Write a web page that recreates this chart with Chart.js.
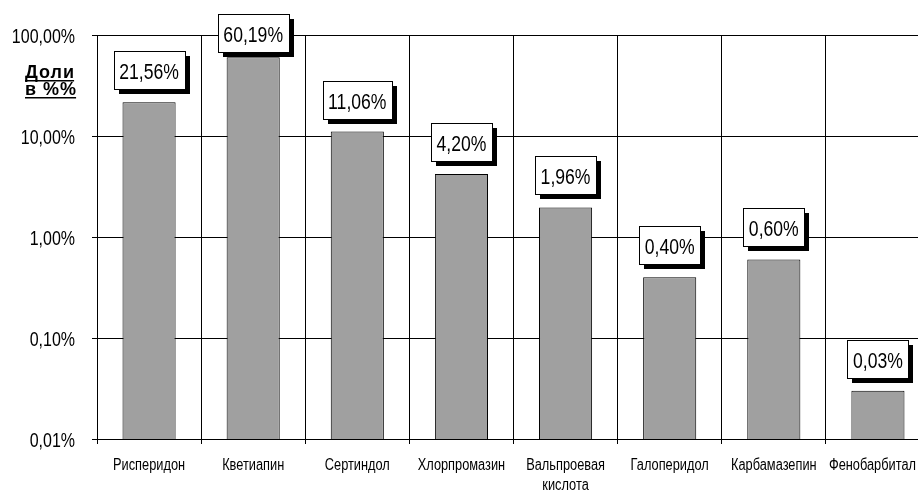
<!DOCTYPE html>
<html>
<head>
<meta charset="utf-8">
<script src="https://cdn.jsdelivr.net/npm/chart.js@4.4.0/dist/chart.umd.min.js"></script>
<style>
  html, body { margin: 0; padding: 0; background: #fff; overflow: hidden; }
  #wrap { width: 935px; height: 494px; }
</style>
</head>
<body>
<div id="wrap"><canvas id="grafico"></canvas></div>
<script>
const categorias = ['Рисперидон', 'Кветиапин', 'Сертиндол', 'Хлорпромазин', ['Вальпроевая', 'кислота'], 'Галоперидол', 'Карбамазепин', 'Фенобарбитал'];
const doli = [21.56, 60.19, 11.06, 4.20, 1.96, 0.40, 0.60, 0.03];
const yTicks = [0.01, 0.1, 1, 10, 100];

const fonte = '"Liberation Sans", Arial, sans-serif';
const fmt = v => v.toFixed(2).replace('.', ',') + '%';

// texto "estreito" (tipo Arial Narrow) - escala horizontal
function estreito(ctx, txt, x, y, align, sx) {
    ctx.save();
    ctx.translate(x, y);
    ctx.scale(sx, 1);
    ctx.textAlign = align;
    ctx.fillText(txt, 0, 0);
    ctx.restore();
}

// rótulos dos eixos desenhados à mão
const eixos = {
    id: 'eixos',
    afterDraw(chart) {
        const ctx = chart.ctx;
        const x = chart.scales.x, y = chart.scales.y;
        ctx.save();
        ctx.fillStyle = '#000';
        ctx.textBaseline = 'middle';
        ctx.font = '20px ' + fonte;
        yTicks.forEach(v => {
            estreito(ctx, fmt(v), y.right - 22, y.getPixelForValue(v) + 2, 'right', 0.8);
        });
        ctx.font = '16px ' + fonte;
        categorias.forEach((c, i) => {
            const linhas = Array.isArray(c) ? c : [c];
            let px = x.getPixelForValue(i);
            linhas.forEach((l, j) => {
                // não deixa o último rótulo sair da janela
                const meia = ctx.measureText(l).width * 0.8 / 2;
                const cx = Math.min(px, 916 - meia);
                estreito(ctx, l, cx, x.top + 27 + j * 20, 'center', 0.8);
            });
        });
        ctx.restore();
    }
};

// caixinhas com sombra acima das barras
const rotulos = {
    id: 'rotulos',
    afterDatasetsDraw(chart) {
        const ctx = chart.ctx;
        const meta = chart.getDatasetMeta(0);
        ctx.save();
        ctx.font = '22px ' + fonte;
        ctx.textBaseline = 'middle';
        meta.data.forEach((bar, i) => {
            const txt = fmt(doli[i]);
            const w = Math.round(ctx.measureText(txt).width * 0.8 + 11);
            const h = 38;
            let top = Math.round(bar.y - 13 - h);
            if (top < 14) top = 14;
            const left = Math.round(bar.x - w / 2);
            ctx.fillStyle = '#000';
            ctx.fillRect(left + 5, top + 5, w, h);
            ctx.fillStyle = '#fff';
            ctx.fillRect(left, top, w, h);
            ctx.strokeStyle = '#000';
            ctx.lineWidth = 1;
            ctx.strokeRect(left + 0.5, top + 0.5, w, h);
            ctx.fillStyle = '#000';
            estreito(ctx, txt, bar.x, top + h / 2 + 3, 'center', 0.8);
        });
        ctx.restore();
    }
};

// "Доли в %%" sublinhado
const tituloEixo = {
    id: 'tituloEixo',
    afterDraw(chart) {
        const ctx = chart.ctx;
        ctx.save();
        ctx.font = 'bold 18px ' + fonte;
        ctx.fillStyle = '#000';
        ctx.textAlign = 'left';
        ctx.textBaseline = 'alphabetic';
        ctx.letterSpacing = '1px';
        const linhas = [['Доли', 78], ['в %%', 95]];
        linhas.forEach(([t, yy]) => {
            ctx.fillText(t, 25, yy);
            const w = ctx.measureText(t).width - 1;
            ctx.fillRect(25, yy + 2, w, 1.5);
        });
        ctx.restore();
    }
};

new Chart(document.getElementById('grafico').getContext('2d'), {
    type: 'bar',
    data: {
        labels: categorias,
        datasets: [{
            data: doli,
            backgroundColor: '#a0a0a0',
            borderColor: '#000',
            borderWidth: 1,
            barPercentage: 0.51,
            categoryPercentage: 1
        }]
    },
    options: {
        responsive: true,
        maintainAspectRatio: false,
        animation: false,
        layout: { padding: { top: 35, right: 5, left: 0, bottom: 0 } },
        plugins: {
            legend: { display: false },
            tooltip: { enabled: false }
        },
        scales: {
            x: {
                grid: { color: '#000', lineWidth: 1, offset: true, tickLength: 5 },
                border: { color: '#000' },
                ticks: { display: false },
                afterFit(s) { s.height = 55; }
            },
            y: {
                type: 'logarithmic',
                min: 0.01,
                max: 100,
                afterBuildTicks(s) { s.ticks = yTicks.map(v => ({ value: v })); },
                grid: { color: '#000', lineWidth: 1, tickLength: 5 },
                border: { color: '#000' },
                ticks: { display: false },
                afterFit(s) { s.width = 97; }
            }
        }
    },
    plugins: [rotulos, eixos, tituloEixo]
});
</script>
</body>
</html>
